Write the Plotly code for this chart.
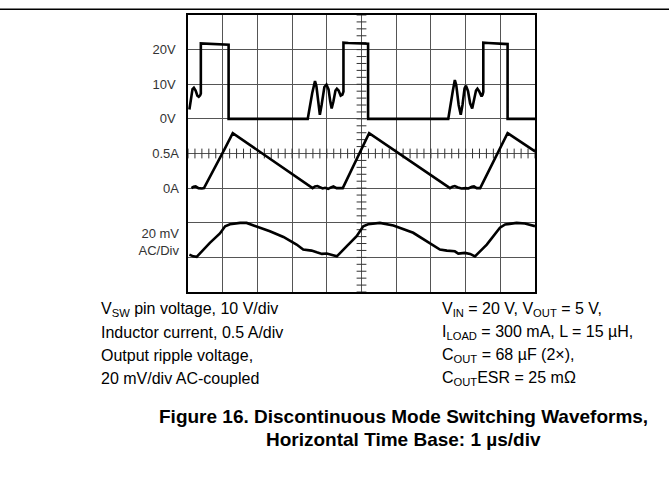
import plotly.graph_objects as go
import numpy as np

# ---------------- data (time in µs, 1 µs/div) ----------------
# Switch-node voltage (V)
t_sw = [0.04, 0.09, 0.13, 0.17, 0.22, 0.27, 0.31, 0.35, 0.37, 0.37, 0.55, 1.17, 1.17,
        3.45, 3.58, 3.63, 3.66, 3.70, 3.76, 3.80, 3.85, 3.93, 3.99, 4.05, 4.10, 4.14,
        4.19, 4.25, 4.29, 4.34, 4.40, 4.45, 4.48, 4.48, 4.62, 5.19, 5.19,
        7.50, 7.63, 7.67, 7.69, 7.73, 7.80, 7.86, 7.91, 7.97, 8.01, 8.07, 8.13, 8.19,
        8.24, 8.30, 8.34, 8.39, 8.46, 8.49, 8.51, 8.51, 8.65, 9.21, 9.21, 10.0]
v_sw = [2.7, 6.5, 8.6, 9.0, 8.2, 6.7, 6.4, 6.8, 7.3, 21.8, 21.7, 21.4, 0.0,
        0.0, 7.5, 10.3, 10.9, 9.5, 4.0, 1.2, 4.0, 9.2, 9.9, 8.5, 5.0, 3.0,
        5.0, 8.2, 8.7, 8.2, 6.7, 7.0, 7.9, 22.0, 21.9, 21.7, 0.0,
        0.0, 8.0, 10.6, 11.2, 9.8, 4.0, 1.2, 4.0, 8.8, 9.6, 8.0, 4.5, 3.0,
        5.0, 8.2, 8.7, 8.0, 6.5, 7.0, 7.8, 22.0, 21.9, 21.6, 0.0, 0.0]

# Inductor current (A)
t_il = [0.10, 0.16, 0.22, 0.30, 0.40, 0.46, 1.05, 1.29, 3.59, 3.66, 3.73, 3.80, 3.88,
        3.95, 4.04, 4.12, 4.19, 4.28, 4.46, 5.22, 7.55, 7.62, 7.69, 7.78, 7.88, 8.00,
        8.08, 8.18, 8.24, 8.32, 8.42, 9.21, 10.0]
i_l = [0.0, 0.02, 0.025, 0.0, -0.005, 0.0, 0.56, 0.795, 0.0, 0.025, 0.03, 0.01, -0.005,
       0.005, -0.01, 0.01, 0.025, 0.0, 0.0, 0.795, 0.0, 0.02, 0.03, 0.01, -0.005, 0.0,
       -0.005, 0.02, 0.025, 0.0, 0.0, 0.795, 0.53]

# Output ripple voltage (mV, AC coupled)
t_rip = [0.04, 0.15, 0.25, 0.63, 0.92, 1.07, 1.21, 1.50, 1.69, 1.98, 2.36, 2.75, 3.13,
         3.32, 3.56, 3.71, 3.86, 4.00, 4.14, 4.29, 4.57, 4.86, 5.05, 5.19, 5.53, 5.92,
         6.49, 6.97, 7.26, 7.46, 7.69, 7.79, 7.98, 8.13, 8.27, 8.61, 8.99, 9.14, 9.47,
         9.71, 10.0]
v_rip = [-8.4, -9.4, -9.7, -1.6, 3.8, 8.0, 9.1, 9.9, 9.9, 8.0, 5.1, 1.8, -2.6,
         -5.5, -6.1, -7.1, -8.0, -7.8, -8.4, -9.4, -3.6, 2.2, 8.0, 9.1, 9.9, 8.4,
         4.2, -1.6, -5.5, -6.1, -6.5, -7.8, -7.4, -8.0, -9.4, -2.6, 7.1, 9.0, 9.9,
         9.6, 8.0]

volt_ticks = [0, 10, 20]
volt_labels = ["0V", "10V", "20V"]
amp_ticks = [0, 0.5]
amp_labels = ["0A", "0.5A"]
rip_ticks = [-1]
rip_labels = ["20 mV<br>AC/Div"]

# ---------------- geometry helpers ----------------
W, H = 669, 481
L, R, T, B = 188, 134, 15, 189
PW, PH = W - L - R, H - T - B


def px(x):
    return (x - L) / PW


def py(y):
    return (H - B - y) / PH


tick_font = dict(family="Liberation Sans, Arial, sans-serif", size=13, color="#333")
trace_line = dict(color="black", width=2.6)

fig = go.Figure()

# centre graticule minor ticks
xt = np.round(np.arange(0, 10.0001, 0.2), 3)
fig.add_trace(go.Scatter(x=xt, y=[0.5] * len(xt), yaxis="y2", mode="markers",
                         marker=dict(symbol="line-ns", size=7,
                                     line=dict(color="#333", width=1)),
                         hoverinfo="skip", showlegend=False))
yt = np.round(np.arange(-50, 30.0001, 2), 3)
fig.add_trace(go.Scatter(x=[5] * len(yt), y=yt, mode="markers",
                         marker=dict(symbol="line-ew", size=7,
                                     line=dict(color="#333", width=1)),
                         hoverinfo="skip", showlegend=False))

fig.add_trace(go.Scatter(x=t_sw, y=v_sw, mode="lines", line=trace_line,
                         showlegend=False, yaxis="y"))
fig.add_trace(go.Scatter(x=t_il, y=i_l, mode="lines", line=trace_line,
                         showlegend=False, yaxis="y2"))
fig.add_trace(go.Scatter(x=t_rip, y=v_rip, mode="lines", line=trace_line,
                         showlegend=False, yaxis="y3"))

fig.update_layout(
    width=W, height=H,
    margin=dict(l=L, r=R, t=T, b=B, pad=0),
    paper_bgcolor="white", plot_bgcolor="white",
    xaxis=dict(range=[0, 10], dtick=1, tick0=0, showgrid=True, gridcolor="#555",
               gridwidth=1, showticklabels=False, ticks="", zeroline=False,
               showline=True, linecolor="black", linewidth=1.6, mirror=True),
    yaxis=dict(range=[-50, 30], tickvals=list(range(-50, 31, 10)),
               ticktext=[volt_labels[volt_ticks.index(v)] if v in volt_ticks else ""
                         for v in range(-50, 31, 10)],
               showgrid=True, gridcolor="#555", gridwidth=1, ticks="",
               zeroline=False, showline=True, linecolor="black", linewidth=1.6,
               mirror=True, tickfont=tick_font, ticklabelstandoff=8),
    yaxis2=dict(range=[-1.5, 2.5], overlaying="y", side="left", tickvals=amp_ticks,
                ticktext=amp_labels, showgrid=False, zeroline=False, ticks="",
                showline=False, tickfont=tick_font, ticklabelstandoff=8),
    yaxis3=dict(range=[-30, 130], overlaying="y", side="left", tickvals=rip_ticks,
                ticktext=rip_labels, showgrid=False, zeroline=False, ticks="",
                showline=False, tickfont=tick_font, ticklabelstandoff=8),
)

# top page rule
fig.add_shape(type="line", xref="paper", yref="paper", x0=px(0), x1=px(W),
              y0=py(9.3), y1=py(9.3), line=dict(color="black", width=1.4))

txt_font = dict(family="Liberation Sans, Arial, sans-serif", size=16, color="black")
left_lines = ["V<sub>SW</sub> pin voltage, 10 V/div",
              "Inductor current, 0.5 A/div",
              "Output ripple voltage,",
              "20 mV/div AC-coupled"]
right_lines = ["V<sub>IN</sub> = 20 V, V<sub>OUT</sub> = 5 V,",
               "I<sub>LOAD</sub> = 300 mA, L = 15 µH,",
               "C<sub>OUT</sub> = 68 µF (2×),",
               "C<sub>OUT</sub>ESR = 25 mΩ"]
rows = [309, 332, 355, 378]
for s, yy in zip(left_lines, rows):
    fig.add_annotation(text=s, xref="paper", yref="paper", x=px(99), y=py(yy),
                       xanchor="left", yanchor="middle", showarrow=False,
                       font=txt_font)
for s, yy in zip(right_lines, rows):
    fig.add_annotation(text=s, xref="paper", yref="paper", x=px(440), y=py(yy),
                       xanchor="left", yanchor="middle", showarrow=False,
                       font=txt_font)

title_font = dict(family="Liberation Sans, Arial, sans-serif", size=19, color="black")
fig.add_annotation(text="<b>Figure 16. Discontinuous Mode Switching Waveforms,</b>",
                   xref="paper", yref="paper", x=px(403), y=py(416),
                   xanchor="center", yanchor="middle", showarrow=False, font=title_font)
fig.add_annotation(text="<b>Horizontal Time Base: 1 µs/div</b>",
                   xref="paper", yref="paper", x=px(403), y=py(439),
                   xanchor="center", yanchor="middle", showarrow=False, font=title_font)

fig.write_html("out.html", config={"displayModeBar": False},
               post_script="document.body.style.margin='0';")
